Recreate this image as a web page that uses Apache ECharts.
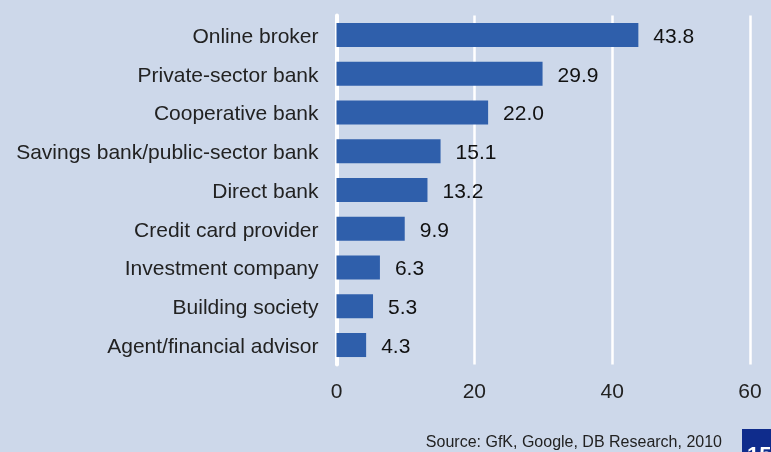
<!DOCTYPE html>
<html>
<head>
<meta charset="utf-8">
<script src="https://cdn.jsdelivr.net/npm/echarts@6/dist/echarts.min.js"></script>
<style>
  html, body { margin: 0; padding: 0; background: #cdd8ea; }
  #chart { width: 771px; height: 452px; }
</style>
</head>
<body>
<div id="chart"></div>
<script>
// Provider types, top to bottom
const categories = [
  'Online broker',
  'Private-sector bank',
  'Cooperative bank',
  'Savings bank/public-sector bank',
  'Direct bank',
  'Credit card provider',
  'Investment company',
  'Building society',
  'Agent/financial advisor'
];
// Share per provider type, %
const values = [43.8, 29.9, 22.0, 15.1, 13.2, 9.9, 6.3, 5.3, 4.3];
// Value axis ticks
const xTicks = [0, 20, 40, 60];

const chart = echarts.init(document.getElementById('chart'), null, { renderer: 'canvas' });

const font = 'Arial, "Liberation Sans", sans-serif';

chart.setOption({
  backgroundColor: '#cdd8ea',
  animation: false,
  grid: { left: 336.5, right: 21, top: 15.6, bottom: 87.6, containLabel: false },
  xAxis: {
    type: 'value',
    min: xTicks[0],
    max: xTicks[xTicks.length - 1],
    interval: xTicks[1] - xTicks[0],
    axisLine: { show: false },
    axisTick: { show: false },
    axisLabel: {
      margin: 17,
      fontSize: 21,
      fontFamily: font,
      color: '#222',
      formatter: v => String(v)
    },
    splitLine: { show: true, lineStyle: { color: '#ffffff', width: 2.5 } }
  },
  yAxis: {
    type: 'category',
    data: categories,
    inverse: true,
    axisLine: { show: true, lineStyle: { color: '#ffffff', width: 4 } },
    axisTick: { show: false },
    axisLabel: {
      margin: 18,
      formatter: v => '{a|' + v + '}',
      rich: {
        a: {
          fontSize: 21,
          fontFamily: font,
          color: '#222',
          padding: [4, 0, 0, 0]
        }
      }
    }
  },
  series: [{
    type: 'bar',
    data: values,
    barWidth: '62%',
    itemStyle: { color: '#2f5fab' },
    label: {
      show: true,
      position: 'right',
      distance: 15,
      offset: [0, 2],
      fontSize: 21,
      fontFamily: font,
      color: '#111',
      formatter: p => p.value.toFixed(1)
    }
  }],
  graphic: [
    {
      type: 'text',
      left: 9,
      top: -20,
      style: { text: 'by provider type', font: '21px ' + font, fill: '#222' }
    },
    {
      type: 'text',
      x: 722,
      y: 451,
      style: { text: 'Source: GfK, Google, DB Research, 2010', font: '16px ' + font, fill: '#222', textAlign: 'right', textVerticalAlign: 'bottom' }
    },
    {
      type: 'rect',
      shape: { x: 742, y: 429, width: 40, height: 30 },
      style: { fill: '#0f2c8c' }
    },
    {
      type: 'text',
      x: 747,
      y: 445,
      style: { text: '15', font: 'bold 22px ' + font, fill: '#ffffff' }
    }
  ]
});
</script>
</body>
</html>
